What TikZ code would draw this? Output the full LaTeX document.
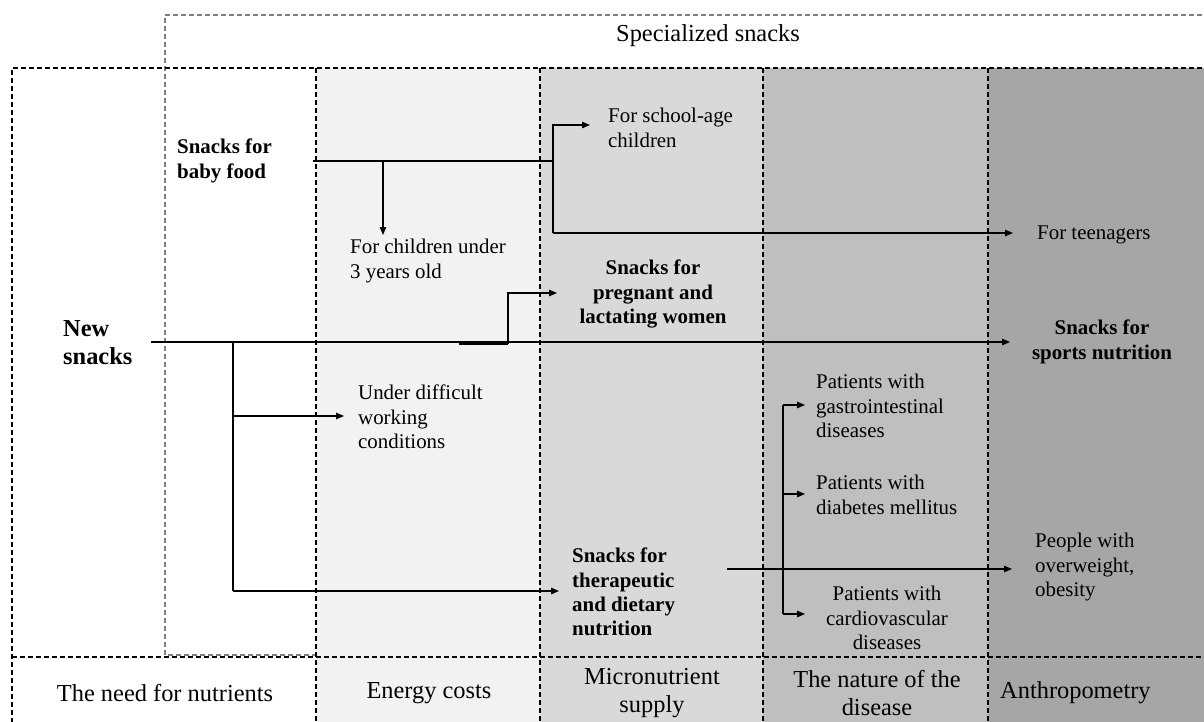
\documentclass[tikz,border=0pt]{standalone}
\usepackage{fontspec}
\setmainfont{Liberation Serif}
\usetikzlibrary{arrows.meta}
\definecolor{colB}{HTML}{F2F2F2}
\definecolor{colC}{HTML}{D9D9D9}
\definecolor{colD}{HTML}{BFBFBF}
\definecolor{colE}{HTML}{A6A6A6}
\definecolor{grayline}{HTML}{7F7F7F}
\begin{document}
\begin{tikzpicture}[x=1pt,y=-1pt,
  tw/.style={font=\fontsize{20.9}{24.4}\selectfont, inner sep=0pt},
  tb/.style={font=\fontsize{20.9}{24.4}\selectfont\bfseries, inner sep=0pt},
  lw/.style={font=\fontsize{24.4}{28}\selectfont, inner sep=0pt},
  lb/.style={font=\fontsize{24.4}{28}\selectfont\bfseries, inner sep=0pt},
  conn/.style={line width=1.3pt},
  arr/.style={line width=1.3pt,-{Triangle[length=8pt,width=6.5pt]}},
  bdash/.style={line width=1.4pt, dash pattern=on 5pt off 3pt},
  gdash/.style={line width=1.3pt, draw=grayline, dash pattern=on 5pt off 3pt}]
\useasboundingbox (0,0) rectangle (1204,722);
% column fills
\fill[colB] (316,68) rectangle (540,722);
\fill[colC] (540,68) rectangle (763,722);
\fill[colD] (763,68) rectangle (988,722);
\fill[colE] (988,68) rectangle (1204,722);
% gray dashed box (Specialized snacks)
\draw[gdash] (1210,15) -- (165,15) -- (165,655) -- (316,655);
% black dashed frame and grid
\draw[bdash] (1210,68) -- (12,68) -- (12,730);
\draw[bdash] (12,657) -- (1210,657);
\foreach \xx in {316,540,763,988} \draw[bdash] (\xx,68) -- (\xx,730);

% text nodes
\node[lw,anchor=west] (spec) at (616,36) {Specialized snacks};
\node[tb,anchor=west,align=left] (baby) at (177,161) {Snacks for\\baby food};
\node[lb,anchor=west,align=left] (news) at (63,343) {New\\snacks};
\node[tw,anchor=west,align=left] (school) at (608,128) {For school-age\\children};
\node[tw,anchor=west,align=left] (under3) at (350,261) {For children under\\3 years old};
\node[tw,anchor=west] (teen) at (1037,235) {For teenagers};
\node[tb,align=center] (pregnant) at (653,294) {Snacks for\\pregnant and\\lactating women};
\node[tb,align=center] (sports) at (1102,342) {Snacks for\\sports nutrition};
\node[tw,anchor=west,align=left] (work) at (358,417) {Under difficult\\working\\conditions};
\node[tw,anchor=west,align=left] (gastro) at (816,406) {Patients with\\gastrointestinal\\diseases};
\node[tw,anchor=west,align=left] (diab) at (816,495) {Patients with\\diabetes mellitus};
\node[tw,align=center] (cardio) at (887,618) {Patients with\\cardiovascular\\diseases};
\node[tb,anchor=west,align=left] (thera) at (572,592) {Snacks for\\therapeutic\\and dietary\\nutrition};
\node[tw,anchor=west,align=left] (obese) at (1035,567) {People with\\overweight,\\obesity};
% bottom labels
\node[lw] (need) at (165,693) {The need for nutrients};
\node[lw] (energy) at (429,693) {Energy costs};
\node[lw,align=center] (micro) at (652,693) {Micronutrient\\supply};
\node[lw,align=center] (nature) at (877,693) {The nature of the\\disease};
\node[lw,anchor=west] (anthro) at (1000,693) {Anthropometry};

% connector coordinates
\coordinate (b0) at (313,161);
\coordinate (bj) at (553,161);
\coordinate (bd) at (383,161);
\coordinate (bdt) at (383,235);
\coordinate (bs) at (553,125);
\coordinate (bst) at (590,125);
\coordinate (bt) at (553,233);
\coordinate (btt) at (1013,233);
\coordinate (n0) at (151,342);
\coordinate (nt) at (1010,342);
\coordinate (nb) at (233,342);
\coordinate (nw) at (233,416);
\coordinate (nwt) at (344,416);
\coordinate (nd) at (233,591);
\coordinate (ndt) at (559,591);
\coordinate (p0) at (459,343.5);
\coordinate (p1) at (508,343.5);
\coordinate (p2) at (508,293);
\coordinate (pt) at (557,293);
\coordinate (t0) at (727,569);
\coordinate (tt) at (1012,569);
\coordinate (v0) at (783,405);
\coordinate (v1) at (783,494);
\coordinate (v2) at (783,614);
\coordinate (vg) at (805,405);
\coordinate (vd) at (805,494);
\coordinate (vc) at (805,614);

% connectors
\draw[conn] (b0) -- (bj);
\draw[arr] (bd) -- (bdt);
\draw[arr] (bt) -- (bs) -- (bst);
\draw[arr] (bt) -- (btt);
\draw[arr] (n0) -- (nt);
\draw[conn] (nb) -- (nd);
\draw[arr] (nw) -- (nwt);
\draw[arr] (nd) -- (ndt);
\draw[line width=2.2pt] (p0) -- (p1);
\draw[arr] (p1) -- (p2) -- (pt);
\draw[arr] (t0) -- (tt);
\draw[conn] (v0) -- (v2);
\draw[arr] (v0) -- (vg);
\draw[arr] (v1) -- (vd);
\draw[arr] (v2) -- (vc);
\end{tikzpicture}
\end{document}
